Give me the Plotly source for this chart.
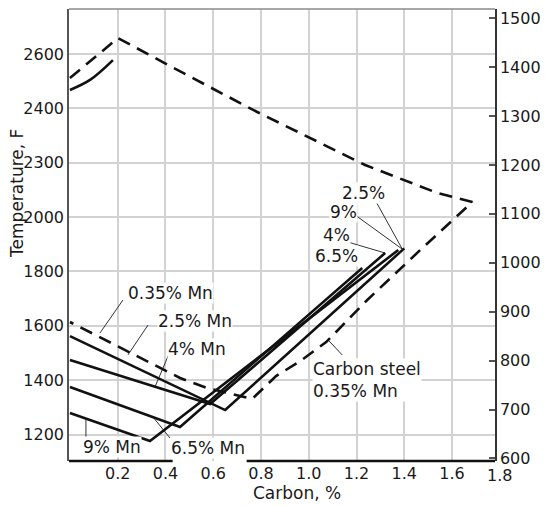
import plotly.graph_objects as go

# ---------------- data (carbon %, temperature F) ----------------
top_dash_c = [0.0, 0.201, 0.490, 0.784, 1.236, 1.538, 1.685, 1.467, 1.245, 1.073, 0.964, 0.863, 0.763, 0.574, 0.461, 0.0]
top_dash_f = [2512, 2659, 2523, 2387, 2192, 2089, 2056, 1879, 1695, 1540, 1470, 1415, 1331, 1371, 1408, 1614]

top_solid_c = [0.0, 0.084, 0.18]
top_solid_f = [2468, 2505, 2578]

mn25_c = [0.0, 0.65, 1.40]
mn25_f = [1562, 1290, 1885]
mn4_c = [0.0, 0.587, 1.32]
mn4_f = [1474, 1312, 1868]
mn65_c = [0.0, 0.461, 1.224]
mn65_f = [1375, 1228, 1813]
mn9_c = [0.0, 0.335, 1.375]
mn9_f = [1279, 1176, 1879]

x_ticks = [0.2, 0.4, 0.6, 0.8, 1.0, 1.2, 1.4, 1.6]
x_ticktext = ["0.2", "0.4", "0.6", "0.8", "1.0", "1.2", "1.4", "1.6"]
x_last_tick = 1.8
f_ticks = [1200, 1400, 1600, 1800, 2000, 2200, 2400, 2600]
f_ticktext = ["1200", "1400", "1600", "1800", "2000", "2300", "2400", "2600"]
c_ticks = [600, 700, 800, 900, 1000, 1100, 1200, 1300, 1400, 1500]

labels = [
    ("0.35% Mn", 0.423, 1721, "center"),
    ("2.5% Mn", 0.524, 1618, "center"),
    ("4% Mn", 0.532, 1515, "center"),
    ("9% Mn", 0.176, 1154, "center"),
    ("6.5% Mn", 0.578, 1150, "center"),
    ("Carbon steel<br>0.35% Mn", 1.014, 1400, "left"),
    ("2.5%", 1.228, 2089, "center"),
    ("9%", 1.144, 2019, "center"),
    ("4%", 1.115, 1934, "center"),
    ("6.5%", 1.115, 1857, "center"),
]
leaders = [
    ([0.222, 0.126], [1695, 1574]),
    ([0.327, 0.243], [1603, 1493]),
    ([0.427, 0.356], [1522, 1375]),
    ([0.067, 0.067], [1180, 1257]),
    ([0.419, 0.348], [1187, 1264]),
    ([1.140, 1.081], [1493, 1548]),
    ([1.278, 1.392], [2063, 1882]),
    ([1.194, 1.392], [2008, 1882]),
    ([1.165, 1.32], [1908, 1868]),
]

X_RANGE = [-0.004, 1.78]
F_RANGE = [1102.5, 2766]
C_RANGE = [(F_RANGE[0] - 32) / 1.8, (F_RANGE[1] - 32) / 1.8]

FONT = "DejaVu Sans"
INK = "#1a1a1a"

fig = go.Figure()

line_style = dict(color="#111111", width=2.6)
dash_style = dict(color="#111111", width=2.6, dash="13px,8px")

for cx, fy in leaders:
    fig.add_trace(go.Scatter(x=cx, y=fy, mode="lines", line=dict(color="#333333", width=1),
                             hoverinfo="skip", showlegend=False))

fig.add_trace(go.Scatter(x=top_dash_c, y=top_dash_f, mode="lines", line=dash_style, showlegend=False))
fig.add_trace(go.Scatter(x=top_solid_c, y=top_solid_f, mode="lines",
                         line=dict(color="#111111", width=2.6, shape="spline"), showlegend=False))
for cx, fy in [(mn25_c, mn25_f), (mn4_c, mn4_f), (mn65_c, mn65_f), (mn9_c, mn9_f)]:
    fig.add_trace(go.Scatter(x=cx, y=fy, mode="lines", line=line_style, showlegend=False))

# invisible trace to activate right axis
fig.add_trace(go.Scatter(x=[None], y=[None], yaxis="y2", showlegend=False))

for text, cx, fy, anchor in labels:
    fig.add_annotation(x=cx, y=fy, text=text, showarrow=False, xanchor=anchor, align="left",
                       font=dict(family=FONT, size=17, color=INK), bgcolor="white", borderpad=0)

# last x tick label sits just beyond the right axis, so place it in paper coordinates
last_tick_paper = (x_last_tick - X_RANGE[0]) / (X_RANGE[1] - X_RANGE[0])
fig.add_annotation(xref="paper", yref="paper", x=last_tick_paper, y=0, text="1.8", showarrow=False,
                   xanchor="center", yanchor="top", yshift=-3,
                   font=dict(family=FONT, size=16, color=INK))

# axis titles
fig.add_annotation(xref="paper", yref="paper", x=-0.122, y=0.591, xanchor="center", yanchor="middle",
                   text="Temperature, F", textangle=-90, showarrow=False,
                   font=dict(family=FONT, size=17, color=INK))
fig.add_annotation(xref="paper", yref="paper", x=0.535, y=-0.071, xanchor="center", yanchor="middle",
                   text="Carbon, %", showarrow=False, font=dict(family=FONT, size=17, color=INK))

# frame lines
fig.add_shape(type="line", xref="paper", yref="paper", x0=0, x1=1, y0=1, y1=1,
              line=dict(color="#8a8a8a", width=1.5))
fig.add_shape(type="line", xref="x", yref="paper", x0=X_RANGE[0], x1=0.43, y0=0, y1=0,
              line=dict(color="#111111", width=2.5))
fig.add_shape(type="line", xref="x", yref="paper", x0=0.74, x1=X_RANGE[1], y0=0, y1=0,
              line=dict(color="#111111", width=2.5))

fig.update_layout(
    width=545, height=506,
    margin=dict(l=69, r=50, t=9, b=45, autoexpand=False),
    paper_bgcolor="white", plot_bgcolor="white",
    font=dict(family=FONT, size=16, color=INK),
    xaxis=dict(range=X_RANGE, tickvals=x_ticks, ticktext=x_ticktext, showgrid=True,
               gridcolor="#d2d2d2", gridwidth=1.5, zeroline=False, showline=False, ticks="",
               automargin=False, ticklabelstandoff=1),
    yaxis=dict(range=F_RANGE, tickvals=f_ticks, ticktext=f_ticktext, showgrid=True,
               gridcolor="#d2d2d2", gridwidth=1.5, zeroline=False, showline=True,
               linecolor="#555555", linewidth=1.5, ticks="", automargin=False),
    yaxis2=dict(range=C_RANGE, tickvals=c_ticks, overlaying="y", side="right", showgrid=False,
                zeroline=False, showline=True, linecolor="#333333", linewidth=1.5,
                ticks="inside", ticklen=6, tickcolor="#555555", tickwidth=1.5, automargin=False),
)

fig.write_html("out.html")
